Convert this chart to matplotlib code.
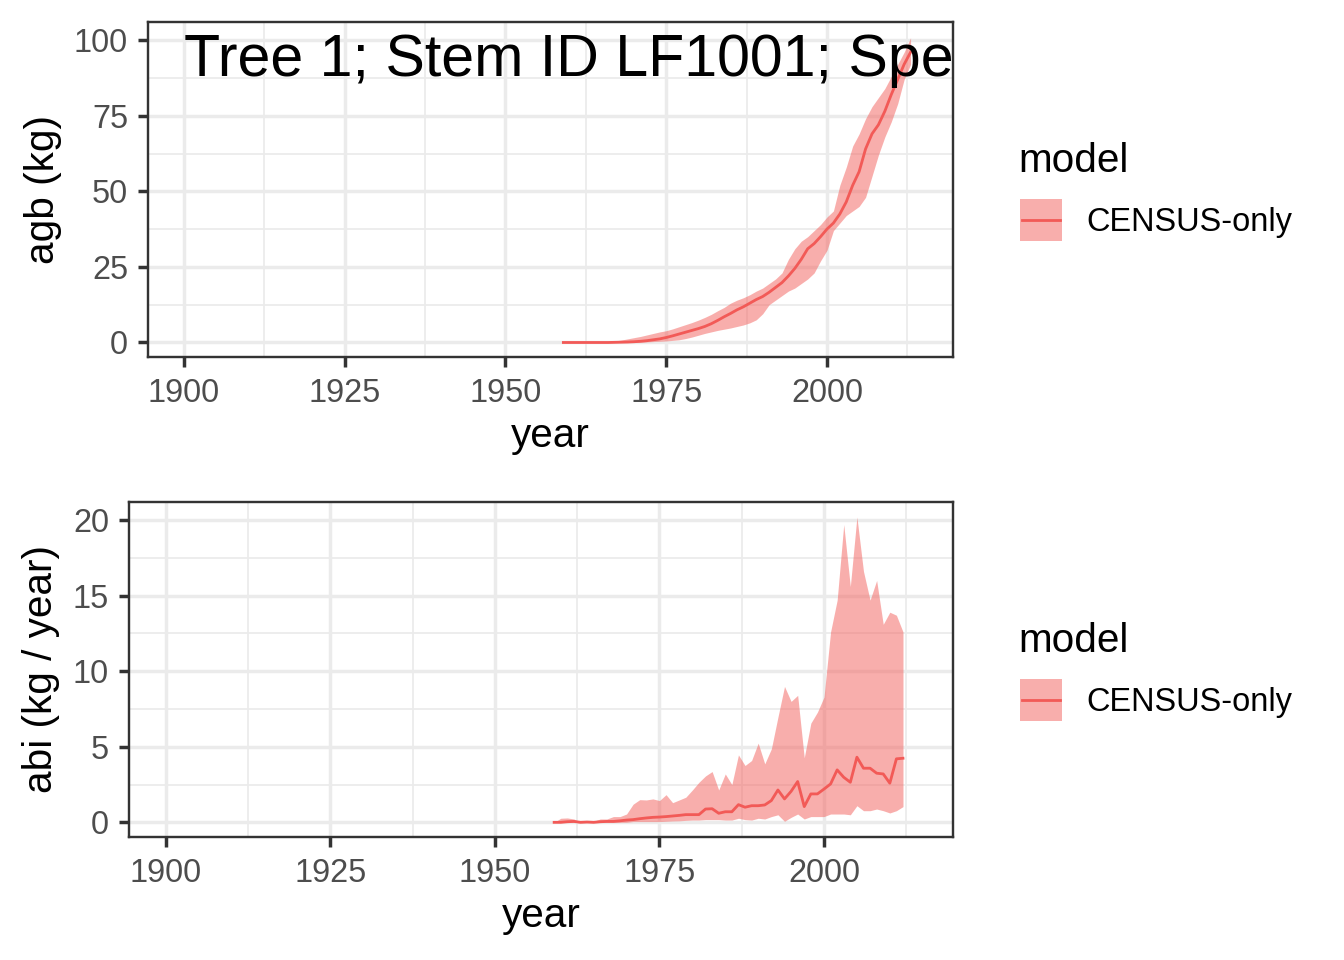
import matplotlib
matplotlib.use('Agg')
import matplotlib.pyplot as plt
from matplotlib.patches import Rectangle
from matplotlib.lines import Line2D

plt.rcParams['font.family'] = ['Liberation Sans', 'DejaVu Sans']

# ---------------- data ----------------
agb_years = [1959, 1960, 1961, 1962, 1963, 1964, 1965, 1966, 1967, 1968,
             1969, 1970, 1971, 1972, 1973, 1974, 1975, 1976, 1977, 1978,
             1979, 1980, 1981, 1982, 1983, 1984, 1985, 1986, 1987, 1988,
             1989, 1990, 1991, 1992, 1993, 1994, 1995, 1996, 1997, 1998,
             1999, 2000, 2001, 2002, 2003, 2004, 2005, 2006, 2007, 2008,
             2009, 2010, 2011, 2012, 2013]
agb_mid = [0, 0, 0, 0, 0, 0, 0, 0, 0.05, 0.1,
           0.15, 0.25, 0.4, 0.6, 0.9, 1.2, 1.65, 2.2, 2.8, 3.4,
           4.0, 4.6, 5.3, 6.2, 7.3, 8.5, 9.6, 10.8, 11.8, 13.0,
           14.2, 15.2, 16.6, 18.2, 19.8, 22.0, 24.5, 27.5, 31.0, 32.7,
           35.0, 37.5, 39.5, 42.5, 46.5, 52.0, 56.5, 64.0, 69.0, 72.0,
           76.5, 82.0, 87.0, 92.0, 96.0]
agb_hi = [0, 0, 0, 0, 0, 0.05, 0.2, 0.3, 0.5, 0.8,
          1.2, 1.6, 2.0, 2.5, 3.0, 3.5, 3.9, 4.5, 5.2, 5.9,
          6.6, 7.4, 8.3, 9.3, 10.5, 11.6, 13.0, 14.0, 14.8, 15.8,
          17.0, 18.0, 19.5, 21.0, 23.0, 27.5, 31.0, 33.5, 35.0, 37.0,
          39.0, 41.5, 43.5, 52.0, 58.0, 65.0, 69.0, 74.0, 78.0, 81.0,
          84.0, 88.0, 92.0, 96.0, 100.8]
agb_lo = [0, 0, 0, 0, 0, 0, 0, 0, 0, 0,
          0, 0, 0.1, 0.2, 0.3, 0.4, 0.5, 0.7, 0.9, 1.3,
          1.8, 2.4, 3.0, 3.5, 4.0, 4.4, 4.8, 5.3, 5.8, 6.5,
          7.5, 9.5, 12.5, 14.0, 15.5, 17.0, 18.0, 19.5, 21.0, 23.0,
          27.0, 30.5, 37.0, 39.5, 42.0, 43.5, 45.0, 48.0, 55.0, 62.0,
          68.0, 73.0, 79.0, 87.0, 92.0]

abi_years = [1959, 1960, 1961, 1962, 1963, 1964, 1965, 1966, 1967, 1968,
             1969, 1970, 1971, 1972, 1973, 1974, 1975, 1976, 1977, 1978,
             1979, 1980, 1981, 1982, 1983, 1984, 1985, 1986, 1987, 1988,
             1989, 1990, 1991, 1992, 1993, 1994, 1995, 1996, 1997, 1998,
             1999, 2000, 2001, 2002, 2003, 2004, 2005, 2006, 2007, 2008,
             2009, 2010, 2011, 2012]
abi_mid = [0, 0, 0.04, 0.06, 0, 0.02, 0, 0.04, 0.06, 0.06,
           0.1, 0.15, 0.18, 0.24, 0.29, 0.33, 0.35, 0.38, 0.42, 0.46,
           0.51, 0.51, 0.51, 0.88, 0.9, 0.6, 0.7, 0.7, 1.17, 1.0,
           1.1, 1.1, 1.15, 1.44, 2.14, 1.55, 2.05, 2.7, 1.04, 1.88,
           1.88, 2.2, 2.54, 3.47, 2.98, 2.65, 4.31, 3.58, 3.58, 3.25,
           3.2, 2.59, 4.2, 4.24]
abi_hi = [0, 0.27, 0.29, 0.22, 0, 0.05, 0.07, 0.22, 0.22, 0.38,
          0.38, 0.55, 1.2, 1.5, 1.48, 1.55, 1.44, 1.83, 1.3, 1.48,
          1.66, 2.14, 2.65, 3.07, 3.36, 2.14, 3.2, 2.5, 4.46, 3.76,
          4.09, 5.24, 3.87, 4.86, 6.96, 8.99, 8.0, 8.4, 4.27, 6.56,
          7.29, 8.29, 12.6, 14.7, 19.7, 15.6, 20.2, 16.6, 14.7, 16.0,
          13.1, 13.9, 13.7, 12.6]
abi_lo = [0, 0, 0, 0, 0, 0, 0, 0, 0, 0,
          0, 0, 0.05, 0.05, 0.05, 0.05, 0.05, 0.07, 0.09, 0.1,
          0.13, 0.15, 0.15, 0.18, 0.18, 0.18, 0.15, 0.15, 0.27, 0.18,
          0.15, 0.27, 0.22, 0.38, 0.5, 0.07, 0.33, 0.55, 0.22, 0.38,
          0.38, 0.38, 0.55, 0.55, 0.55, 0.5, 1.1, 0.77, 0.77, 0.88,
          0.77, 0.62, 0.77, 1.04]

x_major = [1900, 1925, 1950, 1975, 2000]
x_minor = [1912.5, 1937.5, 1962.5, 1987.5, 2012.5]
agb_major = [0, 25, 50, 75, 100]
agb_minor = [12.5, 37.5, 62.5, 87.5]
abi_major = [0, 5, 10, 15, 20]
abi_minor = [2.5, 7.5, 12.5, 17.5]

title_text = 'Tree 1; Stem ID LF1001; Spe'
legend_title = 'model'
legend_label = 'CENSUS-only'

# ---------------- style ----------------
W, H = 1344, 960
LINE_COL = '#F25A57'
FILL_COL = '#F35E5A'
ALPHA = 0.5
TICK_FS = 12.2
TITLE_FS = 15.2
fig = plt.figure(figsize=(7, 5), dpi=192)


def rect(l, t, r, b):
    return [l / W, 1 - b / H, (r - l) / W, (b - t) / H]


ax1 = fig.add_axes(rect(148, 22, 953, 356.7))
ax2 = fig.add_axes(rect(129, 502, 953, 836.7))


def style(ax, ylim, ymaj, ymin, ylabel, ylab_x):
    ax.set_xlim(1894.4, 2019.6)
    ax.set_ylim(*ylim)
    ax.set_xticks(x_major)
    ax.set_xticks(x_minor, minor=True)
    ax.set_yticks(ymaj)
    ax.set_yticks(ymin, minor=True)
    ax.set_xticklabels([str(v) for v in x_major])
    ax.set_yticklabels([str(v) for v in ymaj])
    ax.grid(which='major', color='#EBEBEB', lw=1.3)
    ax.grid(which='minor', color='#EBEBEB', lw=0.65)
    ax.set_axisbelow(True)
    for s in ax.spines.values():
        s.set_color('#333333')
        s.set_linewidth(0.9)
    ax.tick_params(which='major', length=3.9, width=1.3, color='#333333',
                   labelsize=TICK_FS, labelcolor='#4D4D4D')
    ax.tick_params(axis='x', which='major', pad=4.2)
    ax.tick_params(axis='y', which='major', pad=3.6)
    ax.tick_params(which='minor', length=0, width=0)
    ax.set_xlabel('year', fontsize=TITLE_FS)
    ax.xaxis.set_label_coords(0.5, -0.2707)
    ax.xaxis.label.set_verticalalignment('baseline')
    ax.set_ylabel(ylabel, fontsize=TITLE_FS)
    ax.yaxis.set_label_coords(ylab_x, 0.5)
    ax.yaxis.label.set_verticalalignment('center')


style(ax1, (-4.7, 106.0), agb_major, agb_minor, 'agb (kg)', (43 - 148) / 805)
style(ax2, (-0.95, 21.19), abi_major, abi_minor, 'abi (kg / year)', (41 - 129) / 824)

ax1.fill_between(agb_years, agb_lo, agb_hi, color=FILL_COL, alpha=ALPHA, lw=0)
ax1.plot(agb_years, agb_mid, color=LINE_COL, lw=1.05)
ax2.fill_between(abi_years, abi_lo, abi_hi, color=FILL_COL, alpha=ALPHA, lw=0)
ax2.plot(abi_years, abi_mid, color=LINE_COL, lw=1.05)

ax1.text(1900, 88.1, title_text, fontsize=22.2, ha='left', va='baseline',
         color='black', clip_on=True)


def legend(dy):
    fig.text(1018 / W, 1 - (172 + dy) / H, legend_title, fontsize=TITLE_FS,
             ha='left', va='baseline')
    fig.add_artist(Rectangle((1020 / W, 1 - (240.5 + dy) / H), 42 / W, 41.5 / H,
                             transform=fig.transFigure, facecolor=FILL_COL,
                             alpha=ALPHA, edgecolor='none'))
    fig.add_artist(Line2D([1022 / W, 1060 / W], [1 - (219.5 + dy) / H] * 2,
                          transform=fig.transFigure, color=LINE_COL, lw=1.05))
    fig.text(1086 / W, 1 - (231.5 + dy) / H, legend_label, fontsize=TICK_FS,
             ha='left', va='baseline')


legend(0)
legend(480)

fig.savefig('out.png', dpi=192)
